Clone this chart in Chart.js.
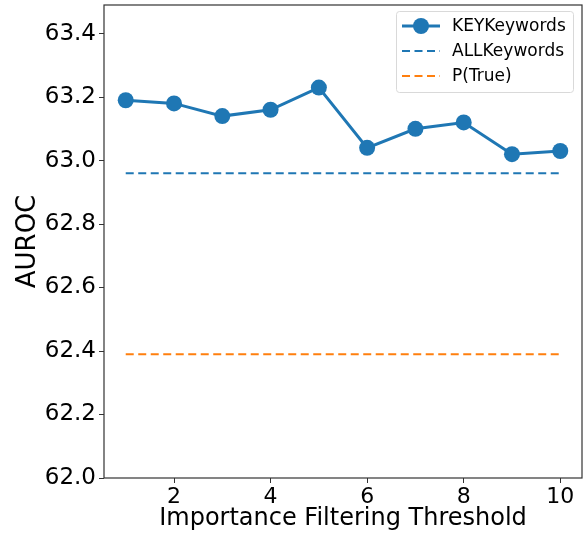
<!DOCTYPE html>
<html><head><meta charset="utf-8">
<script src="https://cdn.jsdelivr.net/npm/chart.js@4/dist/chart.umd.min.js"></script>
<style>html,body{margin:0;padding:0;background:#fff}#wrap{width:585px;height:533px}</style>
</head><body><div id="wrap"><canvas id="c" width="585" height="533"></canvas></div>
<script>
const thresholds = [1,2,3,4,5,6,7,8,9,10];
const keyKeywords = [63.19,63.18,63.14,63.16,63.23,63.04,63.10,63.12,63.02,63.03];
const allKeywords = 62.96;
const pTrue = 62.39;
const xTicks = [2,4,6,8,10];
const yTicks = [62.0,62.2,62.4,62.6,62.8,63.0,63.2,63.4];
const FONT = "'DejaVu Sans', sans-serif";

const frame = {
  id:'frame',
  afterDatasetsDraw(chart){
    const {ctx, chartArea:a} = chart;
    ctx.save();
    ctx.strokeStyle='#333'; ctx.lineWidth=1.2;
    ctx.strokeRect(a.left, a.top, a.right-a.left, a.bottom-a.top);
    // legend
    const x0=396, y0=11, w=177, h=81;
    ctx.fillStyle='rgba(255,255,255,0.8)';
    ctx.strokeStyle='#d9d9d9'; ctx.lineWidth=1;
    ctx.beginPath(); ctx.roundRect(x0+0.5,y0+0.5,w,h,3); ctx.fill(); ctx.stroke();
    const ds = chart.data.datasets;
    const rows=[26,51,76];
    ctx.font='17px '+FONT; ctx.textBaseline='middle'; ctx.textAlign='left';
    ds.forEach((d,i)=>{
      const y=rows[i];
      ctx.strokeStyle=d.borderColor; ctx.lineWidth=d.borderWidth;
      ctx.setLineDash(d.borderDash||[]);
      ctx.beginPath(); ctx.moveTo(402,y); ctx.lineTo(440,y); ctx.stroke();
      ctx.setLineDash([]);
      if(d.pointRadius>0){ ctx.fillStyle=d.borderColor; ctx.beginPath(); ctx.arc(421,y,d.pointRadius,0,Math.PI*2); ctx.fill(); }
      ctx.fillStyle='#000'; ctx.fillText(d.label,452,y+1);
    });
    ctx.restore();
  }
};

new Chart(document.getElementById('c'),{
  type:'line',
  data:{datasets:[
    {label:'KEYKeywords', data:thresholds.map((x,i)=>({x,y:keyKeywords[i]})), borderColor:'#1f77b4', backgroundColor:'#1f77b4', borderWidth:3, pointRadius:8, pointHoverRadius:8, pointBorderWidth:0, tension:0},
    {label:'ALLKeywords', data:thresholds.map(x=>({x,y:allKeywords})), borderColor:'#1f77b4', borderWidth:2, borderDash:[8,4.5], pointRadius:0},
    {label:'P(True)', data:thresholds.map(x=>({x,y:pTrue})), borderColor:'#ff7f0e', borderWidth:2, borderDash:[8,4.5], pointRadius:0}
  ]},
  options:{
    responsive:false, animation:false, devicePixelRatio:1,
    layout:{autoPadding:false, padding:{left:0,right:3,top:5,bottom:0}},
    plugins:{legend:{display:false}, tooltip:{enabled:false}},
    scales:{
      x:{type:'linear', min:0.55, max:10.45,
        afterBuildTicks(s){ s.ticks = xTicks.map(v=>({value:v})); },
        afterFit(s){ s.height = 55; s.paddingLeft=0; s.paddingRight=0; },
        grid:{display:true, drawOnChartArea:false, drawTicks:true, tickLength:5, color:'#333'},
        border:{display:false},
        ticks:{color:'#000', font:{family:FONT,size:22}, padding:1, maxRotation:0, callback:v=>String(v)},
        title:{display:true, text:'Importance Filtering Threshold', color:'#000', font:{family:FONT,size:24}, padding:{top:-2,bottom:0}}
      },
      y:{type:'linear', min:62.0, max:63.49,
        afterBuildTicks(s){ s.ticks = yTicks.map(v=>({value:v})); },
        afterFit(s){ s.width = 104; s.paddingTop=0; s.paddingBottom=0; },
        grid:{display:true, drawOnChartArea:false, drawTicks:true, tickLength:5, color:'#333'},
        border:{display:false},
        ticks:{color:'#000', font:{family:FONT,size:23}, padding:3, callback:v=>v.toFixed(1)},
        title:{display:true, text:'AUROC', color:'#000', font:{family:FONT,size:26}, padding:{top:13,bottom:0}}
      }
    }
  },
  plugins:[frame]
});
</script></body></html>
